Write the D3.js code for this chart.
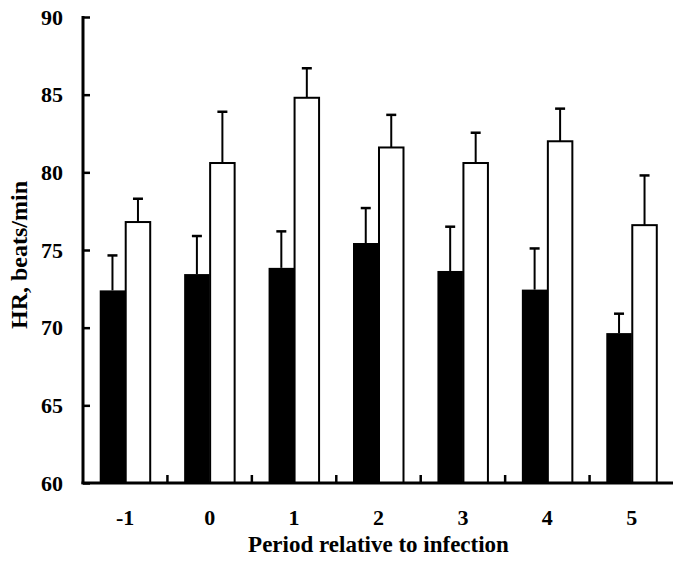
<!DOCTYPE html>
<html>
<head>
<meta charset="utf-8">
<script src="https://cdn.jsdelivr.net/npm/d3@7"></script>
<style>
  html, body { margin: 0; padding: 0; background: #fff; }
  svg { display: block; }
  text { font-family: "Liberation Serif", "Times New Roman", serif; font-weight: bold; fill: #000; }
</style>
</head>
<body>
<svg id="chart" width="673" height="568"></svg>
<script>
const categories = ["-1", "0", "1", "2", "3", "4", "5"];
const series = ["black", "white"];
const blackValues = [72.4, 73.45, 73.85, 75.45, 73.65, 72.45, 69.65];
const blackErrors = [2.25, 2.45, 2.35, 2.25, 2.85, 2.65, 1.25];
const whiteValues = [76.8, 80.6, 84.8, 81.6, 80.6, 82.0, 76.6];
const whiteErrors = [1.5, 3.3, 1.9, 2.1, 1.95, 2.1, 3.2];
const yTicks = [60, 65, 70, 75, 80, 85, 90];
const yTitle = "HR, beats/min";
const xTitle = "Period relative to infection";

(function () {
const svg = d3.select("#chart");
const mLeft = 83, mRight = 674, mTop = 17, mBottom = 483;

const x = d3.scaleBand().domain(categories).range([mLeft, mRight]).paddingInner(0.396).paddingOuter(0.198);
const x1 = d3.scaleBand().domain(series).range([0, x.bandwidth()]).padding(0);
const y = d3.scaleLinear().domain([60, 90]).range([mBottom, mTop]);

const data = categories.map((c, i) => ({
  cat: c,
  bars: [
    { s: "black", v: blackValues[i], e: blackErrors[i] },
    { s: "white", v: whiteValues[i], e: whiteErrors[i] }
  ]
}));

const groups = svg.append("g").selectAll("g").data(data).join("g")
  .attr("transform", d => `translate(${x(d.cat)},0)`);

groups.selectAll("line.err").data(d => d.bars).join("line")
  .attr("class", "err")
  .attr("x1", b => x1(b.s) + x1.bandwidth() / 2)
  .attr("x2", b => x1(b.s) + x1.bandwidth() / 2)
  .attr("y1", b => y(b.v))
  .attr("y2", b => y(b.v + b.e))
  .attr("stroke", "#000").attr("stroke-width", 2);
groups.selectAll("line.cap").data(d => d.bars).join("line")
  .attr("class", "cap")
  .attr("x1", b => x1(b.s) + x1.bandwidth() / 2 - 5)
  .attr("x2", b => x1(b.s) + x1.bandwidth() / 2 + 5)
  .attr("y1", b => y(b.v + b.e))
  .attr("y2", b => y(b.v + b.e))
  .attr("stroke", "#000").attr("stroke-width", 2.5);

groups.selectAll("rect").data(d => d.bars).join("rect")
  .attr("x", b => x1(b.s) + (b.s === "white" ? 0.5 : 0))
  .attr("width", b => x1.bandwidth() - (b.s === "white" ? 1 : 0))
  .attr("y", b => y(b.v))
  .attr("height", b => y(60) - y(b.v))
  .attr("fill", b => b.s === "black" ? "#000" : "#fff")
  .attr("stroke", "#000")
  .attr("stroke-width", b => b.s === "white" ? 2 : 0);

const yAxis = d3.axisRight(y).tickValues(yTicks).tickSize(7).tickFormat("");
const gy = svg.append("g").attr("transform", `translate(${mLeft},0)`).call(yAxis);
gy.select(".domain").remove();
gy.selectAll(".tick line").attr("stroke", "#000").attr("stroke-width", 2.5);
svg.append("line").attr("x1", mLeft).attr("x2", mLeft).attr("y1", y(90) - 1).attr("y2", y(60) + 1)
  .attr("stroke", "#000").attr("stroke-width", 3);
svg.append("g").selectAll("text").data(yTicks).join("text")
  .attr("x", 63).attr("y", d => y(d)).attr("dy", "0.35em")
  .attr("text-anchor", "end").attr("font-size", 22).text(d => d);

svg.append("line").attr("x1", mLeft - 1.5).attr("x2", 673).attr("y1", mBottom).attr("y2", mBottom)
  .attr("stroke", "#000").attr("stroke-width", 3);
const bounds = categories.slice(1).map(c => x(c) - x.step() * x.paddingInner() / 2);
svg.append("g").selectAll("line").data(bounds).join("line")
  .attr("x1", d => d).attr("x2", d => d).attr("y1", mBottom).attr("y2", mBottom - 8)
  .attr("stroke", "#000").attr("stroke-width", 2.5);
svg.append("g").selectAll("text").data(categories).join("text")
  .attr("x", d => x(d) + x.bandwidth() / 2).attr("y", 525)
  .attr("text-anchor", "middle").attr("font-size", 22).text(d => d);

svg.append("text").attr("x", (mLeft + mRight) / 2).attr("y", 552)
  .attr("text-anchor", "middle").attr("font-size", 23).text(xTitle);
svg.append("text").attr("transform", `translate(27,255) rotate(-90)`)
  .attr("text-anchor", "middle").attr("font-size", 24).text(yTitle);
})();
</script>
</body>
</html>
